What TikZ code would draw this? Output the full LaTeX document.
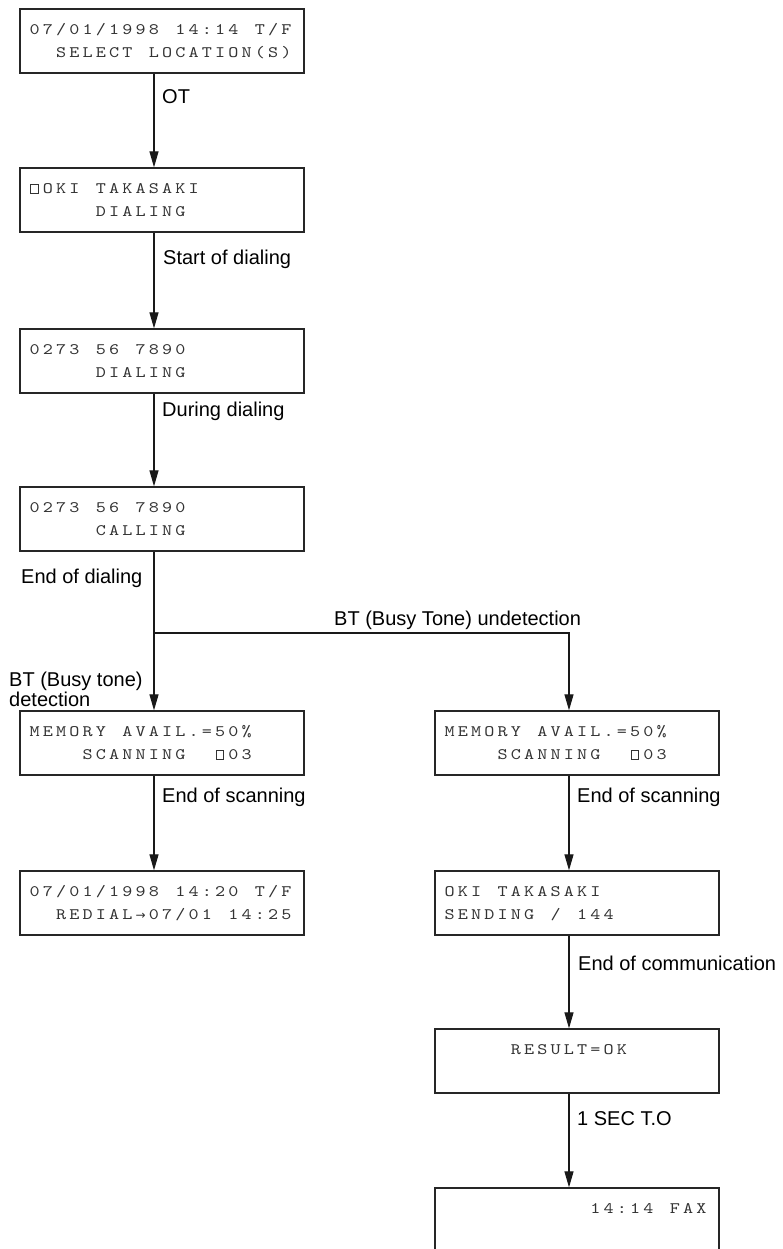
\documentclass[tikz,border=0pt]{standalone}
\usepackage{fontspec}
\usetikzlibrary{arrows.meta}
\newfontfamily\labfont{Liberation Sans}
\newfontfamily\symfont{DejaVu Sans}
\newfontfamily\lcdfont{lmmono10-regular}[Extension=.otf, FakeStretch=1.2]
\newlength\lcdpitch \setlength\lcdpitch{13.25pt}
\makeatletter
\def\lcd#1{{\lcdfont\fontsize{16}{18}\selectfont\lcd@loop#1\relax}}
\def\lcd@loop#1{\ifx#1\relax\else\makebox[\lcdpitch][c]{#1}\expandafter\lcd@loop\fi}
\makeatother
\newcommand\lcdsq{\tikz[baseline=0pt]{\draw[line width=0.9pt,black!80] (0pt,0pt) rectangle (7.5pt,9pt);}}
\newcommand\lcdarr{{\symfont\fontsize{12}{12}\selectfont →}}
\tikzset{
  lcdbox/.style={draw=black!85, line width=1.3pt, rectangle, minimum width=284pt, minimum height=64pt, inner sep=0pt},
  lcdline/.style={anchor=base west, inner sep=0pt, text=black!80},
  lab/.style={anchor=base west, inner sep=0pt, font=\labfont\fontsize{20}{22}\selectfont},
  arr/.style={draw=black!90, line width=1.2pt, -{Triangle[length=16pt,width=9pt]}}
}
\begin{document}
\begin{tikzpicture}[x=1pt,y=-1pt]
\clip (0,0) rectangle (782,1249);
\fill[white] (0,0) rectangle (782,1249);
% boxes
\node[lcdbox] (b1) at (162,41) {};
\node[lcdbox] (b2) at (162,200) {};
\node[lcdbox] (b3) at (162,361) {};
\node[lcdbox] (b4) at (162,519) {};
\node[lcdbox] (b5) at (162,743) {};
\node[lcdbox] (b6) at (577,743) {};
\node[lcdbox] (b7) at (162,903) {};
\node[lcdbox] (b8) at (577,903) {};
\node[lcdbox] (b9) at (577,1061) {};
\node[lcdbox] (b10) at (577,1220) {};
% lcd texts
\node[lcdline] (t1a) at ([xshift=8.5pt,yshift=-26pt]b1.north west) {\lcd{07/01/1998~14:14~T/F}};
\node[lcdline] (t1b) at ([xshift=8.5pt,yshift=-49.5pt]b1.north west) {\lcd{~~SELECT~LOCATION(S)}};
\node[lcdline] (t2a) at ([xshift=8.5pt,yshift=-26pt]b2.north west) {\lcd{\lcdsq OKI~TAKASAKI}};
\node[lcdline] (t2b) at ([xshift=8.5pt,yshift=-49.5pt]b2.north west) {\lcd{~~~~~DIALING}};
\node[lcdline] (t3a) at ([xshift=8.5pt,yshift=-26pt]b3.north west) {\lcd{0273~56~7890}};
\node[lcdline] (t3b) at ([xshift=8.5pt,yshift=-49.5pt]b3.north west) {\lcd{~~~~~DIALING}};
\node[lcdline] (t4a) at ([xshift=8.5pt,yshift=-26pt]b4.north west) {\lcd{0273~56~7890}};
\node[lcdline] (t4b) at ([xshift=8.5pt,yshift=-49.5pt]b4.north west) {\lcd{~~~~~CALLING}};
\node[lcdline] (t5a) at ([xshift=8.5pt,yshift=-26pt]b5.north west) {\lcd{MEMORY~AVAIL.=50\%}};
\node[lcdline] (t5b) at ([xshift=8.5pt,yshift=-49.5pt]b5.north west) {\lcd{~~~~SCANNING~~\lcdsq 03}};
\node[lcdline] (t6a) at ([xshift=8.5pt,yshift=-26pt]b6.north west) {\lcd{MEMORY~AVAIL.=50\%}};
\node[lcdline] (t6b) at ([xshift=8.5pt,yshift=-49.5pt]b6.north west) {\lcd{~~~~SCANNING~~\lcdsq 03}};
\node[lcdline] (t7a) at ([xshift=8.5pt,yshift=-26pt]b7.north west) {\lcd{07/01/1998~14:20~T/F}};
\node[lcdline] (t7b) at ([xshift=8.5pt,yshift=-49.5pt]b7.north west) {\lcd{~~REDIAL\lcdarr 07/01~14:25}};
\node[lcdline] (t8a) at ([xshift=8.5pt,yshift=-26pt]b8.north west) {\lcd{OKI~TAKASAKI}};
\node[lcdline] (t8b) at ([xshift=8.5pt,yshift=-49.5pt]b8.north west) {\lcd{SENDING~/~144}};
\node[lcdline] (t9a) at ([xshift=8.5pt,yshift=-26pt]b9.north west) {\lcd{~~~~~RESULT=OK}};
\node[lcdline] (t10a) at ([xshift=8.5pt,yshift=-26pt]b10.north west) {\lcd{~~~~~~~~~~~14:14~FAX}};
% connectors
\draw[arr] ([xshift=-8pt]b1.south) -- ([xshift=-8pt]b2.north);
\draw[arr] ([xshift=-8pt]b2.south) -- ([xshift=-8pt]b3.north);
\draw[arr] ([xshift=-8pt]b3.south) -- ([xshift=-8pt]b4.north);
\draw[arr] ([xshift=-8pt]b4.south) -- ([xshift=-8pt]b5.north);
\coordinate (brL) at (154,633);
\coordinate (brR) at ([xshift=-8pt]b6.north |- brL);
\draw[arr] (brL) -- (brR) -- ([xshift=-8pt]b6.north);
\draw[arr] ([xshift=-8pt]b5.south) -- ([xshift=-8pt]b7.north);
\draw[arr] ([xshift=-8pt]b6.south) -- ([xshift=-8pt]b8.north);
\draw[arr] ([xshift=-8pt]b8.south) -- ([xshift=-8pt]b9.north);
\draw[arr] ([xshift=-8pt]b9.south) -- ([xshift=-8pt]b10.north);
% labels
\node[lab] (l1) at (162,104) {OT};
\node[lab] (l2) at (163,264) {Start of dialing};
\node[lab] (l3) at (162,416.5) {During dialing};
\node[lab] (l4) at (21,583) {End of dialing};
\node[lab] (l5) at (334,625) {BT (Busy Tone) undetection};
\node[lab] (l6a) at (9,686.5) {BT (Busy tone)};
\node[lab] (l6b) at (9,706.5) {detection};
\node[lab] (l7) at (162,802.5) {End of scanning};
\node[lab] (l8) at (577,802.5) {End of scanning};
\node[lab] (l9) at (578,970) {End of communication};
\node[lab] (l10) at (577,1125.7) {1 SEC T.O};
\end{tikzpicture}
\end{document}
